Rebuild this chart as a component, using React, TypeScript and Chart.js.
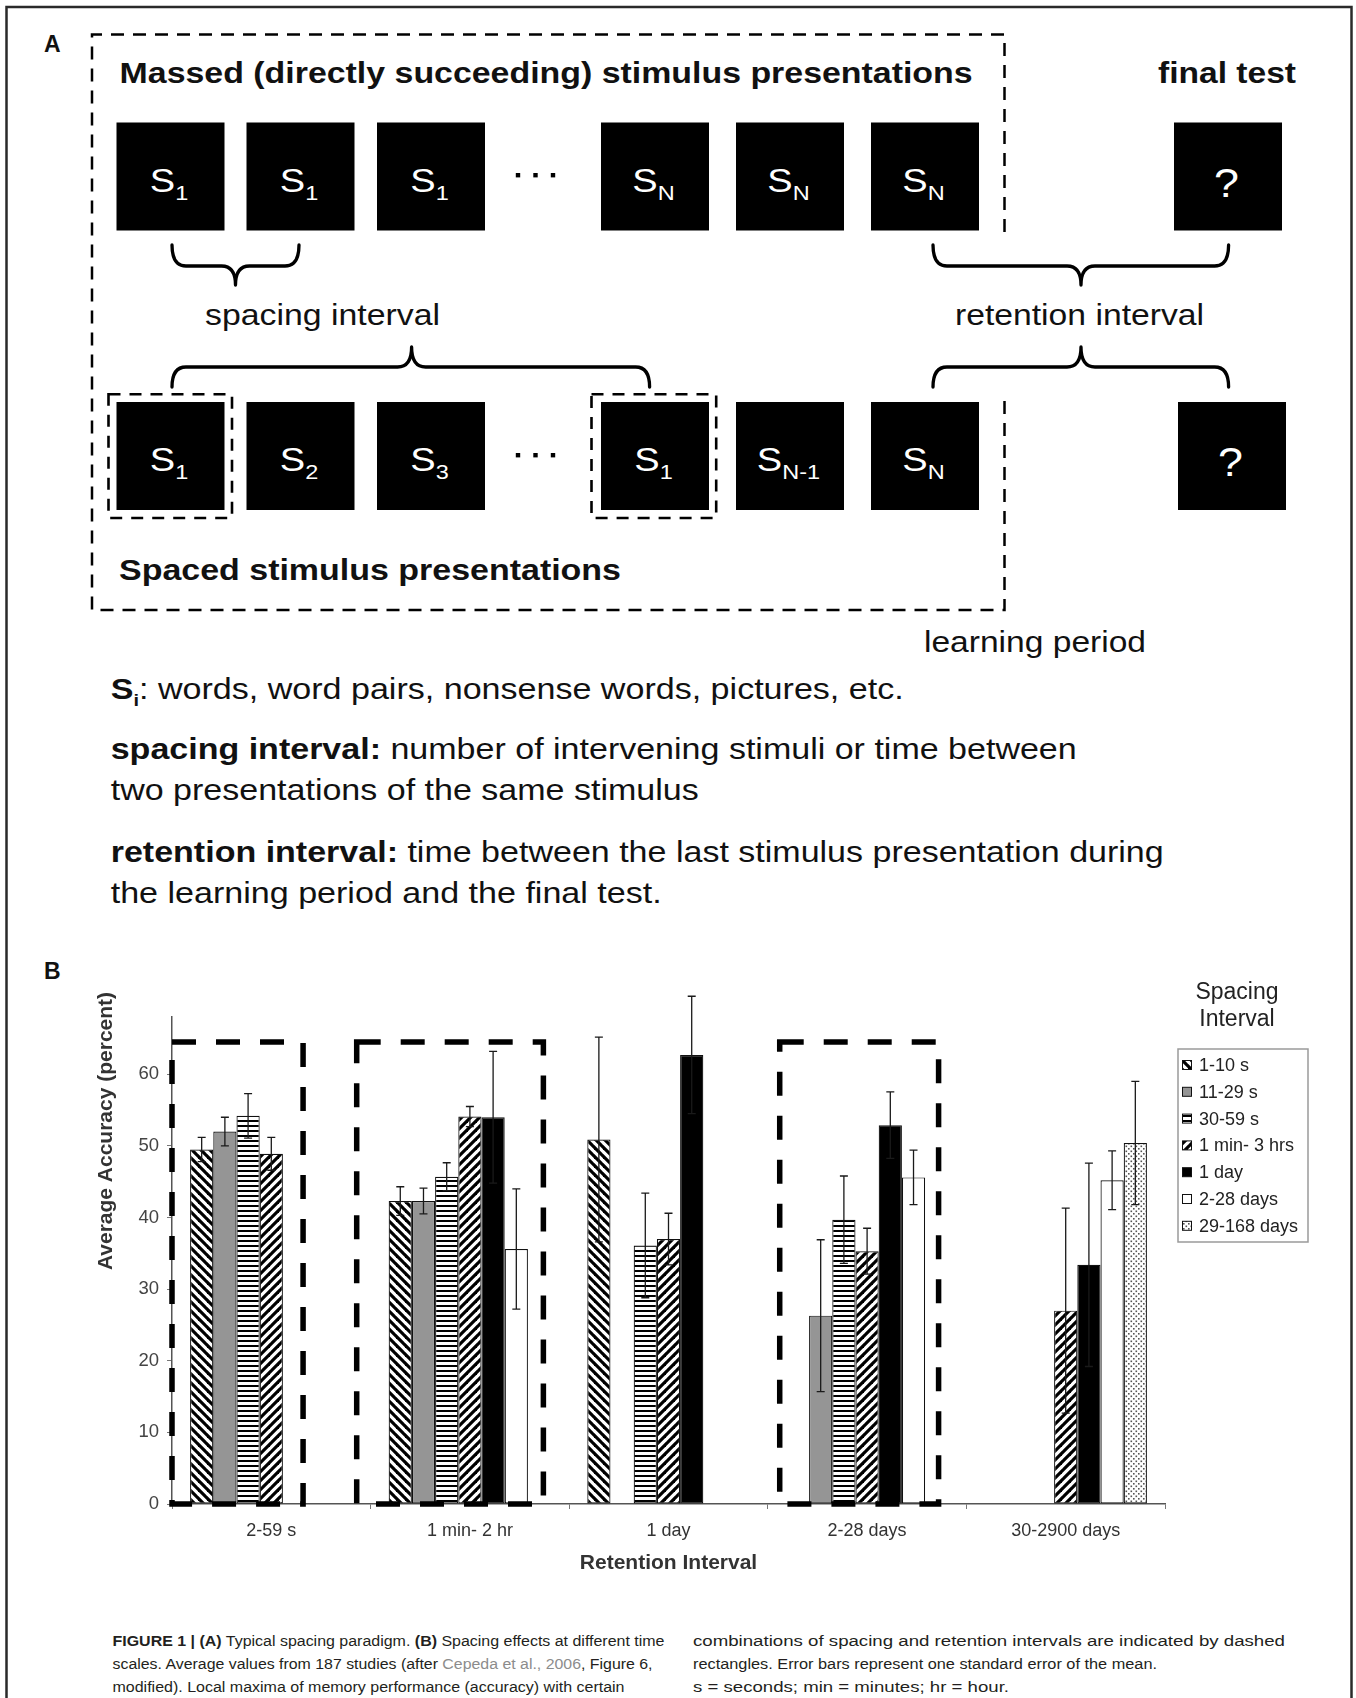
import React, { useEffect, useRef } from 'react';
import { Chart, registerables } from 'chart.js';

Chart.register(...registerables);

// ---------------- DATA ----------------
const categories = ['2-59 s', '1 min- 2 hr', '1 day', '2-28 days', '30-2900 days'];
const seriesNames = ['1-10 s', '11-29 s', '30-59 s', '1 min- 3 hrs', '1 day', '2-28 days', '29-168 days'];

const acc1to10s = [49.5, 42.3, 50.9, null, null];
const acc11to29s = [52.0, 42.3, null, 26.3, null];
const acc30to59s = [54.2, 45.7, 36.1, 39.7, null];
const acc1minTo3hrs = [48.9, 54.1, 37.0, 35.3, 27.0];
const acc1day = [null, 54.0, 62.7, 52.9, 33.4];
const acc2to28days = [null, 35.6, null, 45.6, 45.2];
const acc29to168days = [null, null, null, null, 50.4];

const err1to10s = [1.7, 2.0, 14.3, null, null];
const err11to29s = [2.0, 1.8, null, 10.6, null];
const err30to59s = [3.1, 1.95, 7.3, 6.1, null];
const err1minTo3hrs = [2.3, 1.4, 3.6, 3.2, 14.3];
const err1day = [null, 9.2, 8.2, 4.65, 14.2];
const err2to28days = [null, 8.4, null, 3.8, 4.1];
const err29to168days = [null, null, null, null, 8.6];

const seriesValues = [acc1to10s, acc11to29s, acc30to59s, acc1minTo3hrs, acc1day, acc2to28days, acc29to168days];
const seriesErrors = [err1to10s, err11to29s, err30to59s, err1minTo3hrs, err1day, err2to28days, err29to168days];

const yTicks = [0, 10, 20, 30, 40, 50, 60];
const yMax = 68;

// dashed "optimum" rectangles, in category units / accuracy units
const optimaFrom = [-0.5, 0.43, 2.56];
const optimaTo = [0.16, 1.37, 3.36];
const optimaTop = [64.5, 64.5, 64.5];

const legendTitle = ['Spacing', 'Interval'];
const yAxisTitle = 'Average Accuracy (percent)';
const xAxisTitle = 'Retention Interval';

// ---------------- STYLE ----------------
const FONT = '"Liberation Sans", Arial, Helvetica, sans-serif';

function makeFills(ctx: CanvasRenderingContext2D) {
  const hatch = (dir: number) => {
    const s = 9;
    const c = document.createElement('canvas');
    c.width = s; c.height = s;
    const g = c.getContext('2d')!;
    g.fillStyle = '#fff'; g.fillRect(0, 0, s, s);
    g.strokeStyle = '#000'; g.lineWidth = 3.2;
    for (let k = -1; k <= 1; k++) {
      g.beginPath();
      if (dir === 1) { g.moveTo(k * s - 2, -2); g.lineTo(k * s + s + 2, s + 2); }
      else { g.moveTo(k * s - 2, s + 2); g.lineTo(k * s + s + 2, -2); }
      g.stroke();
    }
    return ctx.createPattern(c, 'repeat')!;
  };
  const horiz = () => {
    const c = document.createElement('canvas');
    c.width = 4; c.height = 5;
    const g = c.getContext('2d')!;
    g.fillStyle = '#fff'; g.fillRect(0, 0, 4, 5);
    g.fillStyle = '#000'; g.fillRect(0, 0, 4, 2);
    return ctx.createPattern(c, 'repeat')!;
  };
  const dots = () => {
    const c = document.createElement('canvas');
    c.width = 5; c.height = 5;
    const g = c.getContext('2d')!;
    g.fillStyle = '#fff'; g.fillRect(0, 0, 5, 5);
    g.fillStyle = '#555';
    g.fillRect(0.5, 0.5, 1.6, 1.6);
    g.fillRect(3, 3, 1.6, 1.6);
    return ctx.createPattern(c, 'repeat')!;
  };
  return [hatch(1), '#959595', horiz(), hatch(-1), '#000000', '#ffffff', dots()];
}

const errorBarsPlugin = {
  id: 'errorBars',
  afterDatasetsDraw(chart: any) {
    const { ctx } = chart;
    const y = chart.scales.y;
    ctx.save();
    ctx.strokeStyle = '#1a1a1a';
    ctx.lineWidth = 1.3;
    chart.data.datasets.forEach((ds: any, i: number) => {
      const meta = chart.getDatasetMeta(i);
      meta.data.forEach((bar: any, j: number) => {
        const v = ds.data[j];
        const e = seriesErrors[i][j];
        if (v == null || e == null) return;
        const x = bar.x;
        const yt = y.getPixelForValue(v + e);
        const yb = y.getPixelForValue(v - e);
        ctx.beginPath();
        ctx.moveTo(x, yt); ctx.lineTo(x, yb);
        ctx.moveTo(x - 4, yt); ctx.lineTo(x + 4, yt);
        ctx.moveTo(x - 4, yb); ctx.lineTo(x + 4, yb);
        ctx.stroke();
      });
    });
    ctx.restore();
  },
};

const optimaPlugin = {
  id: 'optimaBoxes',
  afterDatasetsDraw(chart: any) {
    const { ctx } = chart;
    const { x, y } = chart.scales;
    ctx.save();
    ctx.strokeStyle = '#000';
    ctx.lineWidth = 5.5;
    ctx.setLineDash([24, 20]);
    optimaFrom.forEach((f, i) => {
      const x1 = x.getPixelForValue(f);
      const x2 = x.getPixelForValue(optimaTo[i]);
      const yt = y.getPixelForValue(optimaTop[i]);
      const yb = y.getPixelForValue(0);
      ctx.beginPath();
      ctx.moveTo(x1, yt); ctx.lineTo(x2, yt); ctx.lineTo(x2, yb); ctx.lineTo(x1, yb); ctx.closePath();
      ctx.stroke();
    });
    ctx.restore();
  },
};

const legendPlugin = {
  id: 'boxLegend',
  afterDraw(chart: any) {
    const { ctx } = chart;
    ctx.save();
    ctx.fillStyle = '#222';
    ctx.textAlign = 'center';
    ctx.textBaseline = 'middle';
    ctx.font = `23px ${FONT}`;
    legendTitle.forEach((t, i) => ctx.fillText(t, 1237, 53 + i * 27));
    ctx.strokeStyle = '#9a9a9a';
    ctx.lineWidth = 1.5;
    ctx.strokeRect(1178, 109, 130, 193);
    ctx.font = `18px ${FONT}`;
    ctx.textAlign = 'left';
    chart.data.datasets.forEach((ds: any, i: number) => {
      const cy = 125 + i * 26.8;
      ctx.fillStyle = ds.backgroundColor;
      ctx.fillRect(1182, cy - 4.5, 9, 9);
      ctx.strokeStyle = '#111';
      ctx.lineWidth = 1;
      ctx.strokeRect(1182.5, cy - 4.5, 9, 9);
      ctx.fillStyle = '#222';
      ctx.fillText(ds.label, 1199, cy + 1);
    });
    ctx.restore();
  },
};

const yTitlePlugin = {
  id: 'yTitle',
  afterDraw(chart: any) {
    const { ctx } = chart;
    ctx.save();
    ctx.translate(106, 191);
    ctx.rotate(-Math.PI / 2);
    ctx.font = `bold 21px ${FONT}`;
    ctx.fillStyle = '#333';
    ctx.textAlign = 'center';
    ctx.textBaseline = 'middle';
    ctx.fillText(yAxisTitle, 0, 0);
    ctx.restore();
  },
};

// ---------------- DIAGRAM (panel A) LAYOUT ----------------
const row1X = [116.5, 246.5, 377, 601, 736, 871, 1174];
const row2X = [116.5, 246.5, 377, 601, 736, 871, 1178];
const row1Labels = [['S', '1'], ['S', '1'], ['S', '1'], ['S', 'N'], ['S', 'N'], ['S', 'N'], ['?', '']];
const row2Labels = [['S', '1'], ['S', '2'], ['S', '3'], ['S', '1'], ['S', 'N-1'], ['S', 'N'], ['?', '']];

function brace(x1: number, x2: number, cx: number, yEnd: number, yMid: number, yTip: number) {
  const q = 14;
  return `M ${x1} ${yEnd} Q ${x1} ${yMid} ${x1 + q} ${yMid} L ${cx - q} ${yMid} Q ${cx} ${yMid} ${cx} ${yTip} Q ${cx} ${yMid} ${cx + q} ${yMid} L ${x2 - q} ${yMid} Q ${x2} ${yMid} ${x2} ${yEnd}`;
}

function BoxRow({ xs, y, labels }: { xs: number[]; y: number; labels: string[][] }) {
  return (
    <g>
      {xs.map((x, i) => {
        const cx = x + 54;
        const isQ = labels[i][0] === '?';
        return (
          <g key={i}>
            <rect x={x} y={y} width={108} height={108} fill="#000" />
            <g transform={`translate(${cx - 1.5},${y + (isQ ? 74 : 69)}) scale(1.12,1)`}>
              <text x={0} y={0} textAnchor="middle" fill="#fff" fontFamily={FONT} fontSize={isQ ? 40 : 34}>
                {labels[i][0]}
                {labels[i][1] ? <tspan fontSize={21} dy={8}>{labels[i][1]}</tspan> : null}
              </text>
            </g>
          </g>
        );
      })}
    </g>
  );
}

type Seg = { t: string; b?: boolean; c?: string };

function Line({ x, y, len, size, segs, color = '#111' }: { x: number; y: number; len: number; size: number; segs: Seg[]; color?: string }) {
  return (
    <text x={x} y={y} textLength={len} lengthAdjust="spacingAndGlyphs" fontFamily={FONT} fontSize={size} fill={color} style={{ whiteSpace: 'pre' }}>
      {segs.map((s, i) => (
        <tspan key={i} fontWeight={s.b ? 'bold' : 'normal'} fill={s.c || color}>{s.t}</tspan>
      ))}
    </text>
  );
}

export default function App() {
  const ref = useRef<HTMLCanvasElement>(null);

  useEffect(() => {
    const canvas = ref.current!;
    const ctx = canvas.getContext('2d')!;
    const fills = makeFills(ctx);
    const chart = new Chart(canvas, {
      type: 'bar',
      data: {
        labels: categories,
        datasets: seriesNames.map((name, i) => ({
          label: name,
          data: seriesValues[i] as any,
          backgroundColor: fills[i] as any,
          borderColor: '#111',
          borderWidth: 1.2,
          borderSkipped: false,
          categoryPercentage: 0.818,
          barPercentage: 1,
        })),
      },
      options: {
        responsive: false,
        animation: false,
        events: [],
        layout: { padding: { left: 0, top: 77, right: 191, bottom: 6 } },
        plugins: { legend: { display: false }, tooltip: { enabled: false } },
        scales: {
          x: {
            grid: { display: true, drawOnChartArea: false, tickLength: 5, color: '#777', offset: true },
            border: { display: true, color: '#555', width: 1.5 },
            ticks: { font: { family: FONT, size: 18 }, color: '#333', padding: 11 },
            title: {
              display: true,
              text: xAxisTitle,
              font: { family: FONT, size: 21, weight: 'bold' },
              color: '#333',
              padding: { top: 0, bottom: 18 },
            },
            afterFit: (s: any) => { s.height = 90; },
          } as any,
          y: {
            min: 0,
            max: yMax,
            afterBuildTicks: (s: any) => { s.ticks = yTicks.map((v) => ({ value: v })); },
            grid: { display: true, drawOnChartArea: false, tickLength: 5, color: '#777' },
            border: { display: true, color: '#555', width: 1.5 },
            ticks: { font: { family: FONT, size: 18.5 }, color: '#444', padding: 8 },
            afterFit: (s: any) => { s.width = 172; },
          } as any,
        },
      },
      plugins: [errorBarsPlugin, optimaPlugin, legendPlugin, yTitlePlugin],
    });
    return () => chart.destroy();
  }, []);

  const braceStyle = { fill: 'none', stroke: '#000', strokeWidth: 3.3, strokeLinecap: 'round' as const, strokeLinejoin: 'round' as const };

  return (
    <div style={{ position: 'absolute', left: 0, top: 0, width: 1356, height: 1698, background: '#fff', overflow: 'hidden' }}>
      <svg width={1356} height={1698} style={{ position: 'absolute', left: 0, top: 0 }}>
        {/* frame */}
        <rect x={6.5} y={7} width={1345} height={1740} fill="none" stroke="#2a2a2a" strokeWidth={2.5} />
        {/* panel letters */}
        <text x={44} y={51.7} fontFamily={FONT} fontWeight="bold" fontSize={23} fill="#111">A</text>
        <text x={44} y={978.5} fontFamily={FONT} fontWeight="bold" fontSize={23} fill="#111">B</text>

        {/* learning-period dashed box (open on the right between the rows) */}
        <path d="M 1004.5 232 V 34.5 H 92 V 610 H 1004.5 V 400" fill="none" stroke="#000" strokeWidth={2.5} strokeDasharray="13 9" />
        <Line x={119.6} y={83.3} len={853} size={29} segs={[{ t: 'Massed (directly succeeding) stimulus presentations', b: true }]} />
        <Line x={1158} y={83.3} len={138} size={29} segs={[{ t: 'final test', b: true }]} />

        <BoxRow xs={row1X} y={122.5} labels={row1Labels} />
        <BoxRow xs={row2X} y={402} labels={row2Labels} />

        {/* ellipsis dots */}
        {[518, 535.5, 553].map((x, i) => (
          <g key={i}>
            <rect x={x - 2.2} y={173} width={4.4} height={4.4} fill="#000" />
            <rect x={x - 2.2} y={453} width={4.4} height={4.4} fill="#000" />
          </g>
        ))}

        {/* small dashed boxes around repeated S1 */}
        <rect x={108.5} y={394.3} width={123.5} height={123.7} fill="none" stroke="#000" strokeWidth={2.6} strokeDasharray="12 9" />
        <rect x={591.5} y={394.3} width={124.7} height={123.7} fill="none" stroke="#000" strokeWidth={2.6} strokeDasharray="12 9" />

        {/* braces */}
        <path d={brace(172, 299, 235.5, 245, 266, 285)} {...braceStyle} />
        <path d={brace(172, 649.6, 411.6, 387, 367, 347)} {...braceStyle} />
        <path d={brace(933, 1228.6, 1081, 245, 266, 285)} {...braceStyle} />
        <path d={brace(933, 1228.6, 1081, 387, 367, 347)} {...braceStyle} />

        <Line x={205} y={325} len={235} size={29} segs={[{ t: 'spacing interval' }]} />
        <Line x={955} y={325} len={249} size={29} segs={[{ t: 'retention interval' }]} />

        <Line x={119} y={580} len={502} size={29} segs={[{ t: 'Spaced stimulus presentations', b: true }]} />
        <Line x={924} y={652} len={222} size={29} segs={[{ t: 'learning period' }]} />

        {/* definitions */}
        <text x={110.7} y={699} textLength={793} lengthAdjust="spacingAndGlyphs" fontFamily={FONT} fontSize={29} fill="#111">
          <tspan fontWeight="bold">S</tspan>
          <tspan fontWeight="bold" fontSize={17} dy={7}>i</tspan>
          <tspan dy={-7}>: words, word pairs, nonsense words, pictures, etc.</tspan>
        </text>
        <Line x={110.7} y={759.3} len={966} size={29} segs={[{ t: 'spacing interval:', b: true }, { t: ' number of intervening stimuli or time between' }]} />
        <Line x={110.7} y={800} len={588} size={29} segs={[{ t: 'two presentations of the same stimulus' }]} />
        <Line x={110.7} y={861.7} len={1053} size={29} segs={[{ t: 'retention interval:', b: true }, { t: ' time between the last stimulus presentation during' }]} />
        <Line x={110.7} y={903.3} len={551} size={29} segs={[{ t: 'the learning period and the final test.' }]} />

        {/* caption */}
        <Line x={112.5} y={1646} len={552} size={15.5} color="#231f20" segs={[{ t: 'FIGURE 1 | (A)', b: true }, { t: ' Typical spacing paradigm. ' }, { t: '(B)', b: true }, { t: ' Spacing effects at different time' }]} />
        <Line x={112.5} y={1669} len={540} size={15.5} color="#231f20" segs={[{ t: 'scales. Average values from 187 studies (after ' }, { t: 'Cepeda et al., 2006', c: '#8c8c8c' }, { t: ', Figure 6,' }]} />
        <Line x={112.5} y={1692} len={512} size={15.5} color="#231f20" segs={[{ t: 'modified). Local maxima of memory performance (accuracy) with certain' }]} />
        <Line x={693} y={1646} len={592} size={15.5} color="#231f20" segs={[{ t: 'combinations of spacing and retention intervals are indicated by dashed' }]} />
        <Line x={693} y={1669} len={464} size={15.5} color="#231f20" segs={[{ t: 'rectangles. Error bars represent one standard error of the mean.' }]} />
        <Line x={693} y={1692} len={316} size={15.5} color="#231f20" segs={[{ t: 's = seconds; min = minutes; hr = hour.' }]} />
      </svg>
      <div style={{ position: 'absolute', left: 0, top: 940, width: 1356, height: 660 }}>
        <canvas ref={ref} width={1356} height={660} style={{ display: 'block' }} />
      </div>
    </div>
  );
}
